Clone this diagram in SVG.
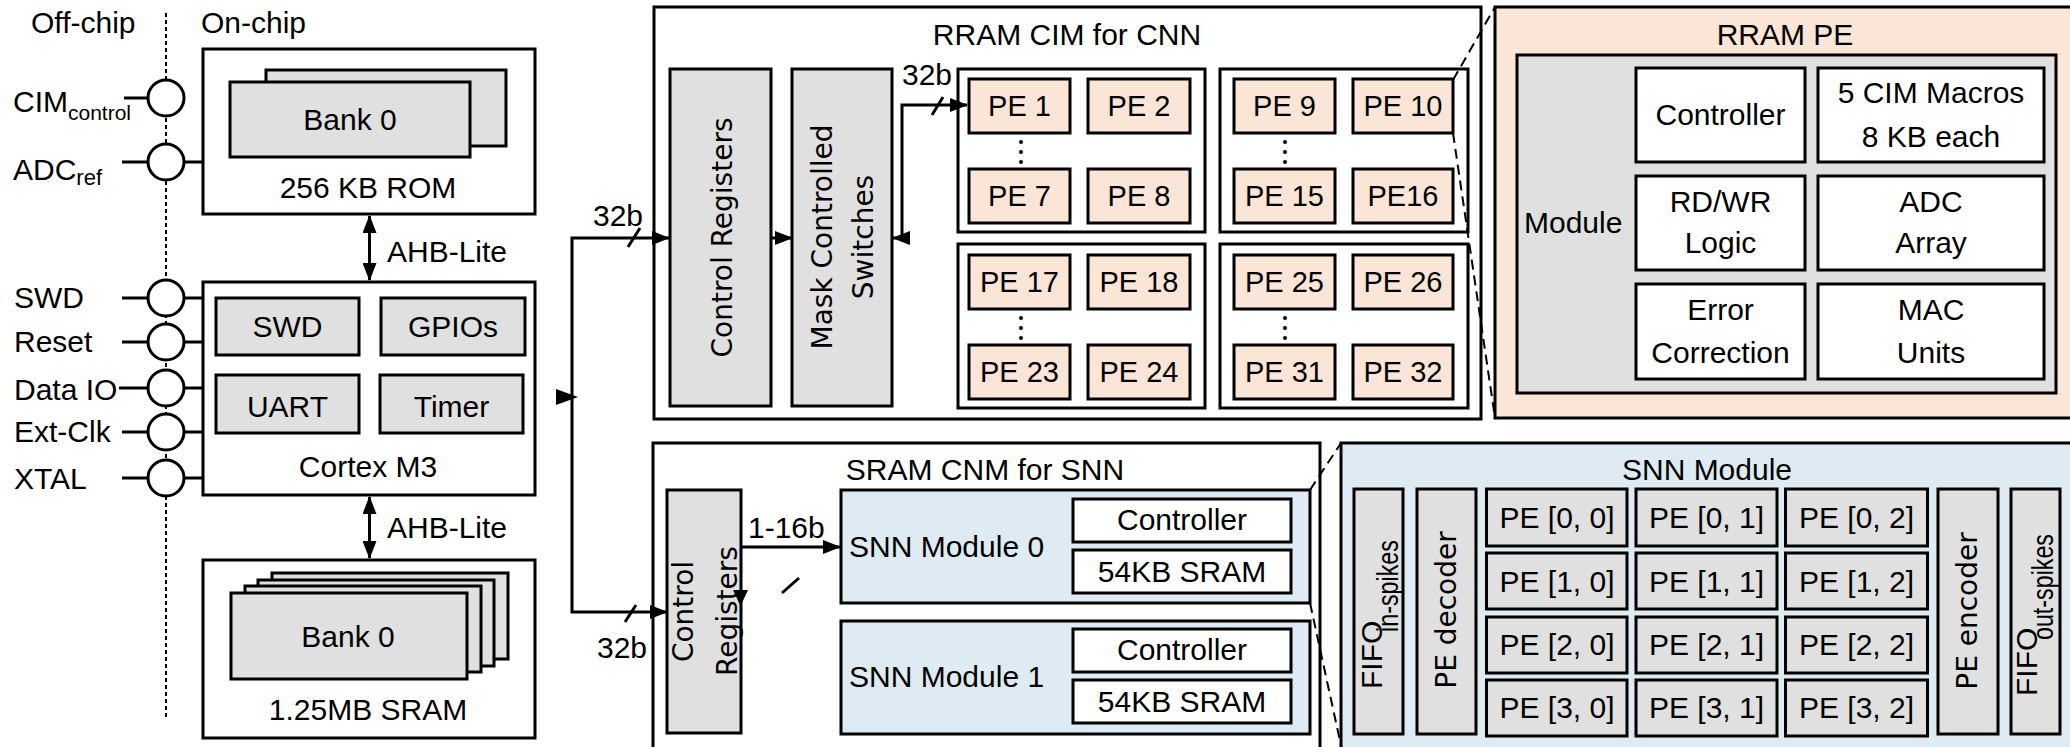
<svg xmlns="http://www.w3.org/2000/svg" width="2070" height="747" viewBox="0 0 2070 747">
<defs>
<style>
.box{fill:#fff;stroke:#000;stroke-width:3}
.gray{fill:#e0e0e0;stroke:#000;stroke-width:3}
.peach{fill:#fbe5d6;stroke:#000;stroke-width:3}
.blue{fill:#deebf3;stroke:#000;stroke-width:3}
.ln{fill:none;stroke:#000;stroke-width:3}
.dash{fill:none;stroke:#000;stroke-width:2;stroke-dasharray:10 6}
.dot{fill:none;stroke:#000;stroke-width:2;stroke-dasharray:4 3}
.pin{fill:#fff;stroke:#000;stroke-width:3}
text{font-family:"Liberation Sans",Arial,sans-serif;fill:#000;font-size:30px}
.c{text-anchor:middle}
.pe{text-anchor:middle;font-size:29px}
.v{font-family:"DejaVu Sans",Verdana,sans-serif;text-anchor:middle;font-size:28px}
.ah{fill:#000}
</style>
<marker id="ah" markerUnits="userSpaceOnUse" markerWidth="18" markerHeight="14" refX="17" refY="7" orient="auto-start-reverse" viewBox="0 0 18 14"><path d="M0,0 L18,7 L0,14 z" fill="#000"/></marker>
</defs>
<rect width="2070" height="747" fill="#fff"/>

<g id="header">
<text x="31" y="33" font-size="31">Off-chip</text>
<text x="201" y="33" font-size="31">On-chip</text>
<line class="dot" x1="166" y1="13" x2="166" y2="720"/>
</g>

<g id="pins">
<g id="pin-cim"><circle class="pin" cx="166" cy="98" r="18"/><text x="13" y="112" font-size="29">CIM<tspan font-size="21" dy="8">control</tspan></text></g>
<g id="pin-adc"><circle class="pin" cx="166" cy="162" r="18"/><text x="13" y="180" font-size="29">ADC<tspan font-size="22" dy="5">ref</tspan></text></g>
<g id="pin-swd"><circle class="pin" cx="166" cy="298" r="18"/><text x="14" y="308">SWD</text></g>
<g id="pin-reset"><circle class="pin" cx="166" cy="342" r="18"/><text x="14" y="352">Reset</text></g>
<g id="pin-dataio"><circle class="pin" cx="166" cy="388" r="18"/><text x="14" y="400">Data IO</text></g>
<g id="pin-extclk"><circle class="pin" cx="166" cy="432" r="18"/><text x="14" y="442">Ext-Clk</text></g>
<g id="pin-xtal"><circle class="pin" cx="166" cy="478" r="18"/><text x="14" y="489">XTAL</text></g>
</g>

<g id="rom">
<rect class="box" x="203" y="49" width="332" height="165"/>
<rect class="gray" x="266" y="70" width="240" height="76"/>
<rect class="gray" x="230" y="82" width="240" height="75"/>
<text class="c" x="350" y="130">Bank 0</text>
<text class="c" x="368" y="198">256 KB ROM</text>
</g>

<g id="cortex">
<rect class="box" x="203" y="282" width="332" height="213"/>
<rect class="gray" x="216" y="298" width="143" height="57"/>
<rect class="gray" x="381" y="298" width="144" height="57"/>
<rect class="gray" x="216" y="375" width="143" height="58"/>
<rect class="gray" x="380" y="375" width="143" height="58"/>
<text class="c" x="287.5" y="337">SWD</text>
<text class="c" x="453" y="337">GPIOs</text>
<text class="c" x="287.5" y="417">UART</text>
<text class="c" x="451.5" y="417">Timer</text>
<text class="c" x="368" y="477" font-size="31">Cortex M3</text>
</g>

<g id="sram">
<rect class="box" x="203" y="560" width="332" height="178"/>
<rect class="gray" x="272" y="573" width="236" height="86"/>
<rect class="gray" x="258" y="580" width="236" height="86"/>
<rect class="gray" x="245" y="586" width="236" height="86"/>
<rect class="gray" x="231" y="593" width="236" height="86"/>
<text class="c" x="348" y="647">Bank 0</text>
<text class="c" x="368" y="720" font-size="31">1.25MB SRAM</text>
</g>

<g id="rram-cim">
<rect class="box" x="654" y="7" width="827" height="412"/>
<text class="c" x="1067" y="45" font-size="28.5">RRAM CIM for CNN</text>
<g id="cnn-control-registers">
<rect class="gray" x="670" y="69" width="101" height="337"/>
<text class="v" font-size="29" transform="translate(732,237.5) rotate(-90)">Control Registers</text>
</g>
<g id="mask-switches">
<rect class="gray" x="792" y="69" width="100" height="337"/>
<text class="v" transform="translate(832,237) rotate(-90)">Mask Controlled</text>
<text class="v" transform="translate(873,237) rotate(-90)">Switches</text>
</g>
<g id="pe-group-1">
<rect class="box" x="958" y="69" width="247" height="163"/>
<rect class="peach" x="969" y="79" width="101" height="54"/><text class="pe" x="1019.5" y="116">PE 1</text>
<rect class="peach" x="1088" y="79" width="102" height="54"/><text class="pe" x="1139" y="116">PE 2</text>
<rect class="peach" x="969" y="169" width="101" height="54"/><text class="pe" x="1019.5" y="206">PE 7</text>
<rect class="peach" x="1088" y="169" width="102" height="54"/><text class="pe" x="1139" y="206">PE 8</text>
<circle cx="1021" cy="142" r="2"/><circle cx="1021" cy="152" r="2"/><circle cx="1021" cy="162" r="2"/>
</g>
<g id="pe-group-2">
<rect class="box" x="1220" y="69" width="248" height="163"/>
<rect class="peach" x="1234" y="79" width="101" height="54"/><text class="pe" x="1284.5" y="116">PE 9</text>
<rect class="peach" x="1353" y="79" width="100" height="54"/><text class="pe" x="1403" y="116">PE 10</text>
<rect class="peach" x="1234" y="169" width="101" height="54"/><text class="pe" x="1284.5" y="206">PE 15</text>
<rect class="peach" x="1353" y="169" width="100" height="54"/><text class="pe" x="1403" y="206">PE16</text>
<circle cx="1285" cy="142" r="2"/><circle cx="1285" cy="152" r="2"/><circle cx="1285" cy="162" r="2"/>
</g>
<g id="pe-group-3">
<rect class="box" x="958" y="244" width="247" height="164"/>
<rect class="peach" x="969" y="255" width="101" height="54"/><text class="pe" x="1019.5" y="292">PE 17</text>
<rect class="peach" x="1088" y="255" width="102" height="54"/><text class="pe" x="1139" y="292">PE 18</text>
<rect class="peach" x="969" y="345" width="101" height="54"/><text class="pe" x="1019.5" y="382">PE 23</text>
<rect class="peach" x="1088" y="345" width="102" height="54"/><text class="pe" x="1139" y="382">PE 24</text>
<circle cx="1021" cy="318" r="2"/><circle cx="1021" cy="328" r="2"/><circle cx="1021" cy="338" r="2"/>
</g>
<g id="pe-group-4">
<rect class="box" x="1220" y="244" width="248" height="164"/>
<rect class="peach" x="1234" y="255" width="101" height="54"/><text class="pe" x="1284.5" y="292">PE 25</text>
<rect class="peach" x="1353" y="255" width="100" height="54"/><text class="pe" x="1403" y="292">PE 26</text>
<rect class="peach" x="1234" y="345" width="101" height="54"/><text class="pe" x="1284.5" y="382">PE 31</text>
<rect class="peach" x="1353" y="345" width="100" height="54"/><text class="pe" x="1403" y="382">PE 32</text>
<circle cx="1285" cy="318" r="2"/><circle cx="1285" cy="328" r="2"/><circle cx="1285" cy="338" r="2"/>
</g>
</g>

<g id="rram-pe">
<rect class="peach" x="1495" y="7" width="590" height="411"/>
<text class="c" x="1785" y="45" font-size="29">RRAM PE</text>
<rect class="gray" x="1517" y="55" width="539" height="338"/>
<text x="1524" y="233" font-size="32">Module</text>
<rect class="box" x="1636" y="68" width="169" height="94"/><text class="c" x="1720.5" y="125" font-size="32">Controller</text>
<rect class="box" x="1818" y="68" width="226" height="94"/><text class="c" x="1931" y="103" font-size="32">5 CIM Macros</text><text class="c" x="1931" y="147" font-size="32">8 KB each</text>
<rect class="box" x="1636" y="176" width="169" height="94"/><text class="c" x="1720.5" y="212" font-size="32">RD/WR</text><text class="c" x="1720.5" y="253" font-size="32">Logic</text>
<rect class="box" x="1818" y="176" width="226" height="94"/><text class="c" x="1931" y="212" font-size="32">ADC</text><text class="c" x="1931" y="253" font-size="32">Array</text>
<rect class="box" x="1636" y="284" width="169" height="95"/><text class="c" x="1720.5" y="320" font-size="32">Error</text><text class="c" x="1720.5" y="363" font-size="32">Correction</text>
<rect class="box" x="1818" y="284" width="226" height="95"/><text class="c" x="1931" y="320" font-size="32">MAC</text><text class="c" x="1931" y="363" font-size="32">Units</text>
</g>

<g id="sram-cnm">
<rect class="box" x="653" y="443" width="667" height="320"/>
<text class="c" x="985" y="480">SRAM CNM for SNN</text>
<g id="snn-control-registers">
<rect class="gray" x="667" y="490" width="74" height="243"/>
<text class="v" transform="translate(693,611.5) rotate(-90)">Control</text>
<text class="v" transform="translate(737,611) rotate(-90)">Registers</text>
</g>
<g id="snn-module-0">
<rect class="blue" x="841" y="490" width="469" height="113"/>
<text x="849" y="557" font-size="31">SNN Module 0</text>
<rect class="box" x="1073" y="499" width="218" height="43"/><text class="c" x="1182" y="530" font-size="31">Controller</text>
<rect class="box" x="1073" y="550" width="218" height="43"/><text class="c" x="1182" y="582">54KB SRAM</text>
</g>
<g id="snn-module-1">
<rect class="blue" x="841" y="621" width="469" height="113"/>
<text x="849" y="687" font-size="31">SNN Module 1</text>
<rect class="box" x="1073" y="629" width="218" height="43"/><text class="c" x="1182" y="660" font-size="31">Controller</text>
<rect class="box" x="1073" y="680" width="218" height="43"/><text class="c" x="1182" y="712">54KB SRAM</text>
</g>
</g>

<g id="snn-module-detail">
<rect class="blue" x="1341" y="443" width="740" height="320"/>
<text class="c" x="1707" y="480" font-size="31">SNN Module</text>
<g id="fifo-in">
<rect class="gray" x="1354" y="489" width="49" height="245"/>
<text font-size="22" transform="translate(1382,689) rotate(-90)">FIFO</text>
<text font-size="16" textLength="92" lengthAdjust="spacingAndGlyphs" transform="translate(1398,632) rotate(-90)">in-spikes</text>
</g>
<g id="pe-decoder">
<rect class="gray" x="1417" y="489" width="59" height="245"/>
<text class="v" transform="translate(1456,610) rotate(-90)">PE decoder</text>
</g>
<g id="snn-pe-grid">
<rect class="gray" x="1486.5" y="489" width="140.5" height="57"/><text class="c" x="1557" y="528">PE [0, 0]</text>
<rect class="gray" x="1636" y="489" width="141" height="57"/><text class="c" x="1706.5" y="528">PE [0, 1]</text>
<rect class="gray" x="1785.5" y="489" width="142" height="57"/><text class="c" x="1856.5" y="528">PE [0, 2]</text>
<rect class="gray" x="1486.5" y="553" width="140.5" height="56"/><text class="c" x="1557" y="592">PE [1, 0]</text>
<rect class="gray" x="1636" y="553" width="141" height="56"/><text class="c" x="1706.5" y="592">PE [1, 1]</text>
<rect class="gray" x="1785.5" y="553" width="142" height="56"/><text class="c" x="1856.5" y="592">PE [1, 2]</text>
<rect class="gray" x="1486.5" y="617" width="140.5" height="56"/><text class="c" x="1557" y="655">PE [2, 0]</text>
<rect class="gray" x="1636" y="617" width="141" height="56"/><text class="c" x="1706.5" y="655">PE [2, 1]</text>
<rect class="gray" x="1785.5" y="617" width="142" height="56"/><text class="c" x="1856.5" y="655">PE [2, 2]</text>
<rect class="gray" x="1486.5" y="680" width="140.5" height="56"/><text class="c" x="1557" y="718">PE [3, 0]</text>
<rect class="gray" x="1636" y="680" width="141" height="56"/><text class="c" x="1706.5" y="718">PE [3, 1]</text>
<rect class="gray" x="1785.5" y="680" width="142" height="56"/><text class="c" x="1856.5" y="718">PE [3, 2]</text>
</g>
<g id="pe-encoder">
<rect class="gray" x="1938" y="489" width="60" height="245"/>
<text class="v" transform="translate(1977,611) rotate(-90)">PE encoder</text>
</g>
<g id="fifo-out">
<rect class="gray" x="2011" y="489" width="49" height="245"/>
<text font-size="22" transform="translate(2037,696) rotate(-90)">FIFO</text>
<text font-size="16" textLength="106" lengthAdjust="spacingAndGlyphs" transform="translate(2053,640) rotate(-90)">out-spikes</text>
</g>
</g>

<g id="connectors">
<line class="ln" x1="124" y1="98" x2="148" y2="98"/>
<line class="ln" x1="122" y1="162" x2="148" y2="162"/>
<line class="ln" x1="184" y1="162" x2="203" y2="162"/>
<line class="ln" x1="122" y1="298" x2="148" y2="298"/>
<line class="ln" x1="184" y1="298" x2="203" y2="298"/>
<line class="ln" x1="122" y1="342" x2="148" y2="342"/>
<line class="ln" x1="184" y1="342" x2="203" y2="342"/>
<line class="ln" x1="119" y1="388" x2="148" y2="388"/>
<line class="ln" x1="184" y1="388" x2="203" y2="388"/>
<line class="ln" x1="122" y1="432" x2="148" y2="432"/>
<line class="ln" x1="184" y1="432" x2="203" y2="432"/>
<line class="ln" x1="122" y1="478" x2="148" y2="478"/>
<line class="ln" x1="184" y1="478" x2="203" y2="478"/>
<line class="ln" x1="369.5" y1="216" x2="369.5" y2="280" marker-start="url(#ah)" marker-end="url(#ah)"/>
<text x="387" y="262">AHB-Lite</text>
<line class="ln" x1="369.5" y1="497" x2="369.5" y2="558" marker-start="url(#ah)" marker-end="url(#ah)"/>
<text x="387" y="538">AHB-Lite</text>
<path class="ln" d="M669,238 H572 V612 H667" marker-start="url(#ah)" marker-end="url(#ah)"/>
<line class="ln" x1="628" y1="247" x2="640" y2="228"/>
<line class="ln" x1="625" y1="622" x2="636" y2="605"/>
<polygon class="ah" points="556,389 556,405 578,397"/>
<text x="593" y="226">32b</text>
<text x="597" y="658">32b</text>
<line class="ln" x1="771" y1="238" x2="792" y2="238" marker-end="url(#ah)"/>
<path class="ln" d="M893,238 H902 V105 H967" marker-start="url(#ah)" marker-end="url(#ah)"/>
<line class="ln" x1="932" y1="115" x2="943" y2="97"/>
<text x="902" y="85">32b</text>
<line class="ln" x1="741" y1="547" x2="840" y2="547" marker-end="url(#ah)"/>
<text x="748" y="538">1-16b</text>
<polygon class="ah" points="733,590 748,590 740.5,606"/>
<line class="ln" x1="782" y1="593" x2="799" y2="578"/>
<line class="dash" x1="1453" y1="80" x2="1495" y2="7"/>
<line class="dash" x1="1453" y1="133" x2="1495" y2="418"/>
<line class="dash" x1="1310" y1="490" x2="1341" y2="443"/>
<line class="dash" x1="1310" y1="603" x2="1342" y2="750"/>
</g>
</svg>
